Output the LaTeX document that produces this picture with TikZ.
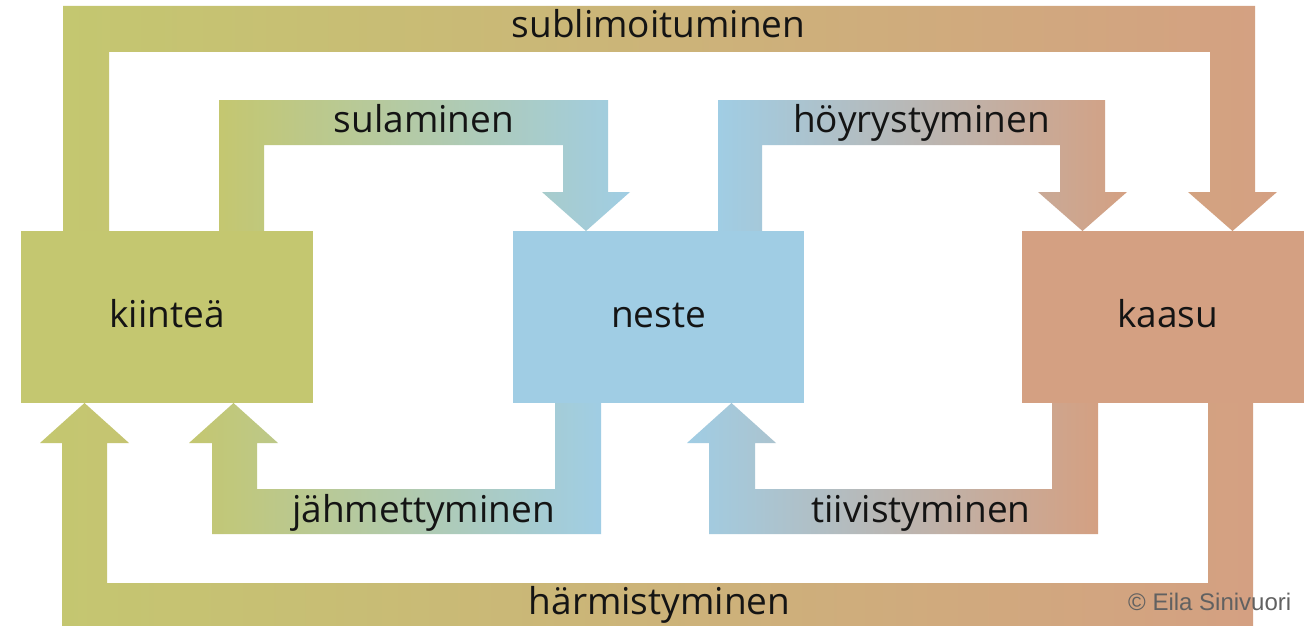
\documentclass[tikz,border=0pt]{standalone}
\usepackage{fontspec}
\setmainfont{Open Sans}
\newfontfamily\copyfont{Liberation Sans}
\definecolor{cgreen}{RGB}{196,199,112}
\definecolor{cblue}{RGB}{160,205,228}
\definecolor{csalmon}{RGB}{212,160,130}
\definecolor{ctext}{RGB}{20,20,20}
\begin{document}
\begin{tikzpicture}[x=1pt,y=-1pt,
  lbl/.style={font=\fontsize{37}{43}\selectfont, text=ctext, anchor=base, inner sep=0pt},
  statebox/.style={minimum height=172pt, inner sep=0pt, outer sep=0pt,
    font=\fontsize{37}{43}\selectfont, text=ctext, text height=25pt, text depth=5pt},
  gtob/.style={left color=cgreen, right color=cblue},
  btos/.style={left color=cblue, right color=csalmon},
  gtos/.style={left color=cgreen, right color=csalmon}]
\clip (0,0) rectangle (1304,626);
\fill[white] (0,0) rectangle (1304,626);

% sublimoituminen (kiintea -> kaasu, over the top)
\shade[gtos] (63,235) -- (63,6) -- (1255,6) -- (1255,192) -- (1277,192) -- (1232.5,231)
  -- (1188,192) -- (1210,192) -- (1210,52) -- (109,52) -- (109,235) -- cycle;
% sulaminen (kiintea -> neste)
\shade[gtob] (219,235) -- (219,100) -- (608,100) -- (608,192) -- (630,192) -- (586,231)
  -- (542,192) -- (563,192) -- (563,145) -- (264,145) -- (264,235) -- cycle;
% hoyrystyminen (neste -> kaasu)
\shade[btos] (718,235) -- (718,100) -- (1105,100) -- (1105,192) -- (1127,192) -- (1082.5,231)
  -- (1038,192) -- (1060,192) -- (1060,145) -- (762,145) -- (762,235) -- cycle;
% jahmettyminen (neste -> kiintea)
\shade[gtob] (601,399) -- (601,534) -- (212,534) -- (212,443) -- (189,443) -- (233.5,403)
  -- (278,443) -- (257,443) -- (257,489) -- (555,489) -- (555,399) -- cycle;
% tiivistyminen (kaasu -> neste)
\shade[btos] (1098,399) -- (1098,534) -- (709,534) -- (709,443) -- (687,443) -- (731.5,403)
  -- (776,443) -- (755,443) -- (755,489) -- (1052,489) -- (1052,399) -- cycle;
% harmistyminen (kaasu -> kiintea, along the bottom)
\shade[gtos] (1253,399) -- (1253,632) -- (62,632) -- (62,443) -- (40,443) -- (84.5,403)
  -- (129,443) -- (107,443) -- (107,583) -- (1208,583) -- (1208,399) -- cycle;

% states
\node[statebox, fill=cgreen, minimum width=292pt] (kiintea) at (167,317) {kiinteä};
\node[statebox, fill=cblue, minimum width=291pt] (neste) at (658.5,317) {neste};
\node[statebox, fill=csalmon, minimum width=291pt] (kaasu) at (1167.5,317) {kaasu};

% labels
\node[lbl] (lsub) at (658.5,38) {sublimoituminen};
\node[lbl] (lsul) at (424,132) {sulaminen};
\node[lbl] (lhoy) at (921.5,132) {höyrystyminen};
\node[lbl] (ljah) at (423.5,522) {jähmettyminen};
\node[lbl] (ltii) at (921,522) {tiivistyminen};
\node[lbl] (lhar) at (659.5,614) {härmistyminen};

\node[font=\copyfont\fontsize{24}{28}\selectfont, text=black!62, anchor=base west, inner sep=0pt]
  (copy) at (1128,610) {© Eila Sinivuori};
\end{tikzpicture}
\end{document}
